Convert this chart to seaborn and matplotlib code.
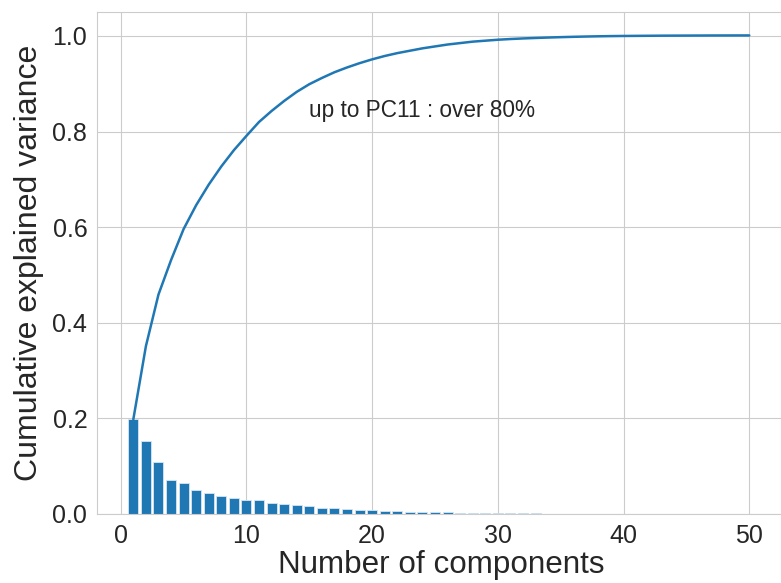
import numpy as np
import pandas as pd
import seaborn as sns
from matplotlib import pyplot as plt

# explained variance ratio per component
components = list(range(1, 51))
explained_ratio = [
    0.198, 0.153, 0.108, 0.072, 0.065, 0.050, 0.043, 0.038, 0.034, 0.030,
    0.029, 0.023, 0.021, 0.019, 0.016, 0.013, 0.012, 0.010, 0.009, 0.008,
    0.007, 0.006, 0.005, 0.005, 0.004, 0.004, 0.003, 0.003, 0.002, 0.002,
    0.0015, 0.0012, 0.0010, 0.0009, 0.0008, 0.0007, 0.0006, 0.0005, 0.0004, 0.0003,
    0.0002, 0.0002, 0.0002, 0.0001, 0.0001, 0.0001, 0.0001, 0.00005, 0.00003, 0.00002,
]
note = 'up to PC11 : over 80%'

pca_df = pd.DataFrame({'n': components, 'ratio': explained_ratio})
pca_df['cum_ratio'] = pca_df['ratio'].cumsum()

sns.set_style('whitegrid')
plt.rcParams['font.family'] = ['Liberation Sans', 'DejaVu Sans']

fig = plt.figure(figsize=(7.81, 5.83), dpi=100)
ax = fig.add_axes([0.1242, 0.1184, 0.8817, 0.861])

ax.bar(pca_df['n'], pca_df['ratio'], width=0.8, color='#1f77b4', edgecolor='#d8e6f2', linewidth=0.6)
sns.lineplot(data=pca_df, x='n', y='cum_ratio', color='#1f77b4', linewidth=1.8, ax=ax)
ax.text(15, 0.83, note, fontsize=16.3, color='#262626')

ax.set_xlim(-1.89, 52.89)
ax.set_ylim(0, 1.05)
ax.set_xticks([0, 10, 20, 30, 40, 50])
ax.set_yticks([0.0, 0.2, 0.4, 0.6, 0.8, 1.0])
ax.tick_params(labelsize=18, colors='#262626')
ax.set_xlabel('Number of components', fontsize=22.6, color='#262626', labelpad=2)
ax.set_ylabel('Cumulative explained variance', fontsize=23, color='#262626', labelpad=6)

plt.savefig('out.png', dpi=100)
